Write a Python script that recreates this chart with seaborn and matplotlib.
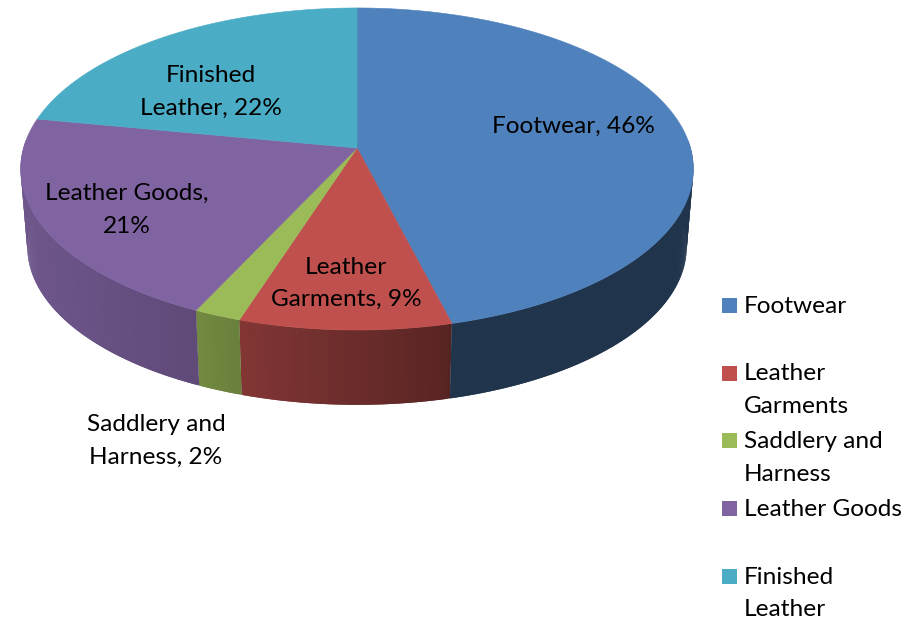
import numpy as np
import matplotlib
matplotlib.use("Agg")
import matplotlib.pyplot as plt
import seaborn as sns
from matplotlib.colors import to_rgb

categories = ["Footwear", "Leather Garments", "Saddlery and Harness", "Leather Goods", "Finished Leather"]
shares = [46, 9, 2, 21, 22]
slice_labels = ["Footwear, 46%", "Leather\nGarments, 9%", "Saddlery and\nHarness, 2%",
                "Leather Goods,\n21%", "Finished\nLeather, 22%"]
legend_labels = ["Footwear", "Leather\nGarments", "Saddlery and\nHarness", "Leather Goods", "Finished\nLeather"]
palette = ["#4F81BD", "#C0504D", "#9BBB59", "#8064A2", "#4BACC6"]

sns.set_theme(style="white")
plt.rcParams["font.family"] = ["Lato", "DejaVu Sans"]

fig = plt.figure(figsize=(9.16, 6.19), dpi=100, facecolor="white")
ax = fig.add_axes([0, 0, 1, 1])
ax.set_xlim(0, 916)
ax.set_ylim(619, 0)
ax.axis("off")

# perspective projection of the pie disc onto the picture
CX, CY, R, A, K = 357.0, 148.0, 333.5, 158.3, 0.1304
DEPTH, SHRINK, MIDY = 78.0, 0.98, 169.0


def top(theta):
    u, v = np.sin(theta), np.cos(theta)
    w = 1 + K * v
    return CX + R * u / w, CY - A * v / w


def bottom(theta):
    x, y = top(theta)
    return CX + (x - CX) * SHRINK, MIDY + DEPTH + (y - MIDY) * SHRINK


def shade(x):
    return np.interp(x, [27, 197, 241, 449, 452, 690], [.86, .74, .68, .46, .40, .40])


edges = np.concatenate([[0], np.cumsum(shares)]) / np.sum(shares) * 2 * np.pi

# rim: strips overlap the next one so no seams show
for i, color in enumerate(palette):
    base = np.array(to_rgb(color))
    n = max(4, int((edges[i + 1] - edges[i]) * 120))
    ts = np.linspace(edges[i], edges[i + 1], n + 1)
    for j, (a, b) in enumerate(zip(ts[:-1], ts[1:])):
        if np.cos((a + b) / 2) > 0.05:
            continue
        far = ts[min(j + 2, n)]
        xa, ya = top(a)
        xb, yb = top(far)
        xc, yc = bottom(far)
        xd, yd = bottom(a)
        xm, _ = top((a + b) / 2)
        c = tuple(base * shade(xm))
        ax.fill([xa, xb, xc, xd], [ya, yb, yc, yd], color=c, lw=0,
                zorder=2 + (n - j) * 1e-4 if xm < CX else 2 + j * 1e-4)

# top face
for i, color in enumerate(palette):
    ts = np.linspace(edges[i], edges[i + 1], 200)
    xs, ys = top(ts)
    ax.fill(np.r_[CX, xs], np.r_[CY, ys], color=color, lw=0.4, zorder=3)

# data labels
label_pos = [(573, 126), (346, 283.5), (156, 441), (127, 210), (211, 92)]
FS = 17.6
LS = 1.68
for text, (x, y) in zip(slice_labels, label_pos):
    ax.text(x, y, text, ha="center", va="center", fontsize=FS, color="black",
            linespacing=LS, zorder=5)

# legend
rows = [305.5, 373, 440.5, 508, 576]
ax.scatter([729.5] * len(rows), rows, marker="s", s=(15 * 0.72) ** 2, c=palette, linewidths=0, zorder=5)
for text, y in zip(legend_labels, rows):
    ax.text(744, y - 9.5, text, ha="left", va="top", fontsize=FS, color="black",
            linespacing=LS, zorder=5)

fig.savefig("out.png", dpi=100, facecolor="white")
